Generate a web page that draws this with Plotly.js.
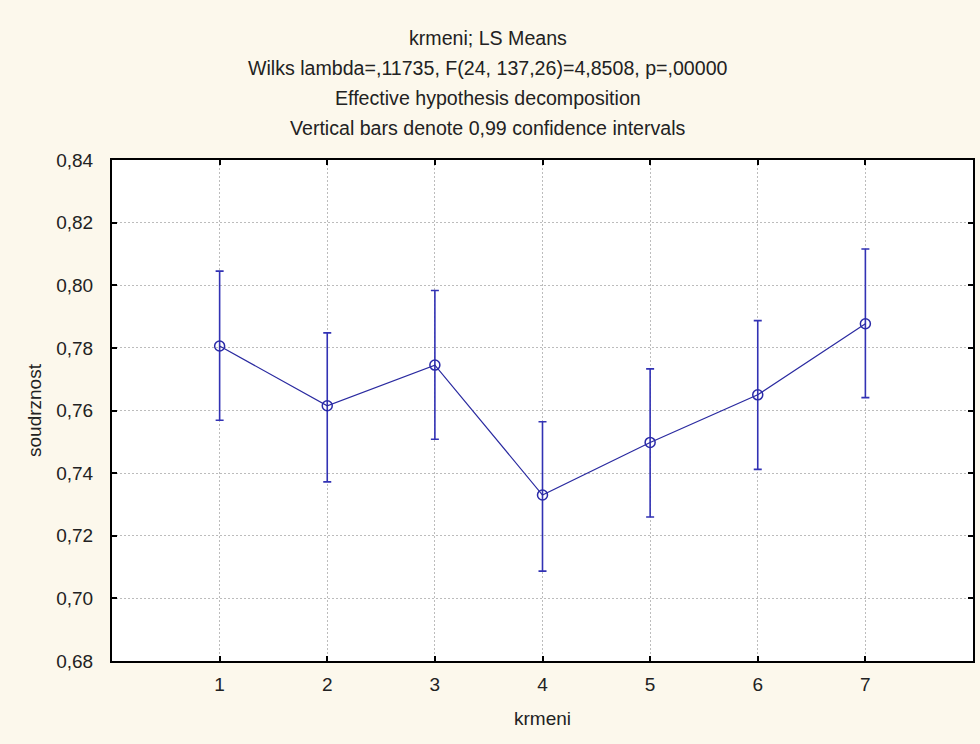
<!DOCTYPE html>
<html>
<head>
<meta charset="utf-8">
<script src="https://cdn.plot.ly/plotly-3.0.1.min.js"></script>
<style>html,body{margin:0;padding:0;background:#fcf8ec;}#chart{width:980px;height:744px;}</style>
</head>
<body>
<div id="chart"></div>
<script>
const categories = [1, 2, 3, 4, 5, 6, 7];
const means = [0.7806, 0.7615, 0.7745, 0.7330, 0.7498, 0.7650, 0.7877];
const upper = [0.8045, 0.7848, 0.7983, 0.7564, 0.7733, 0.7887, 0.8116];
const lower = [0.7569, 0.7372, 0.7508, 0.7087, 0.7260, 0.7412, 0.7641];
const yTickVals = [0.68, 0.70, 0.72, 0.74, 0.76, 0.78, 0.80, 0.82, 0.84];
const yTickText = ["0,68", "0,70", "0,72", "0,74", "0,76", "0,78", "0,80", "0,82", "0,84"];
const xTickText = ["1", "2", "3", "4", "5", "6", "7"];
const titleLines = [
  "krmeni; LS Means",
  "Wilks lambda=,11735, F(24, 137,26)=4,8508, p=,00000",
  "Effective hypothesis decomposition",
  "Vertical bars denote 0,99 confidence intervals"
];

const plus = means.map((m, i) => upper[i] - m);
const minus = means.map((m, i) => m - lower[i]);

const trace = {
  x: categories,
  y: means,
  type: 'scatter',
  mode: 'lines+markers',
  line: {color: '#2a2aa0', width: 1.2},
  marker: {symbol: 'circle-open', size: 10, color: '#2a2aa8', line: {width: 1.5, color: '#2a2aa8'}},
  error_y: {type: 'data', symmetric: false, array: plus, arrayminus: minus,
            color: '#3232b4', thickness: 1.6, width: 4},
  hoverinfo: 'skip'
};

const font = {family: 'Liberation Sans, Arial, sans-serif', size: 19, color: '#222222'};
const titleFont = {family: 'Liberation Sans, Arial, sans-serif', size: 19.6, color: '#222222'};
const titleYpx = [38, 68, 98, 128];
const plotTop = 160, plotBottom = 661;
const annotations = titleLines.map((t, i) => ({
  text: t, xref: 'paper', yref: 'paper',
  x: (488 - 112) / 861, y: (plotBottom - titleYpx[i]) / (plotBottom - plotTop),
  xanchor: 'center', yanchor: 'middle', showarrow: false,
  font: titleFont
}));

const layout = {
  width: 980, height: 744,
  margin: {l: 112, r: 7, t: 160, b: 83, pad: 0},
  paper_bgcolor: '#fcf8ec',
  plot_bgcolor: '#ffffff',
  showlegend: false,
  font: font,
  annotations: annotations,
  xaxis: {
    range: [0, 8],
    tickvals: categories, ticktext: xTickText,
    ticks: 'inside', ticklen: 5, tickwidth: 2, tickcolor: '#000',
    showline: true, linecolor: '#000', linewidth: 2, mirror: 'ticks',
    showgrid: true, gridcolor: '#bcbcbc', griddash: '2px,2px', gridwidth: 1,
    zeroline: false,
    ticklabelstandoff: 5,
    tickfont: font,
    title: {text: 'krmeni', font: font, standoff: 18}
  },
  yaxis: {
    range: [0.68, 0.84],
    tickvals: yTickVals, ticktext: yTickText,
    ticks: 'inside', ticklen: 5, tickwidth: 2, tickcolor: '#000',
    showline: true, linecolor: '#000', linewidth: 2, mirror: 'ticks',
    showgrid: true, gridcolor: '#bcbcbc', griddash: '2px,2px', gridwidth: 1,
    zeroline: false,
    ticklabelstandoff: 13,
    tickfont: font,
    title: {text: 'soudrznost', font: font, standoff: 10}
  }
};

Plotly.newPlot('chart', [trace], layout, {displayModeBar: false, staticPlot: true});
</script>
</body>
</html>
